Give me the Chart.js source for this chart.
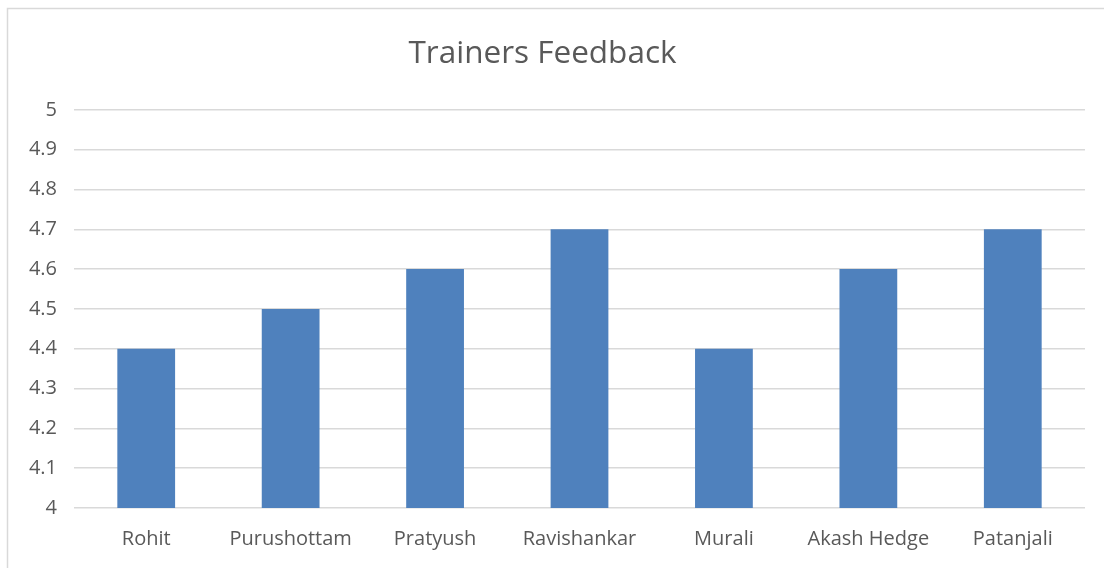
<!DOCTYPE html>
<html>
<head>
<meta charset="utf-8">
<script src="https://cdn.jsdelivr.net/npm/chart.js@4"></script>
<style>
  html, body { margin: 0; padding: 0; background: #fff; }
  #wrap { width: 1104px; height: 568px; }
</style>
</head>
<body>
<div id="wrap"><canvas id="chart" width="1104" height="568"></canvas></div>
<script>
// data
const trainers = ['Rohit', 'Purushottam', 'Pratyush', 'Ravishankar', 'Murali', 'Akash Hedge', 'Patanjali'];
const scores = [4.4, 4.5, 4.6, 4.7, 4.4, 4.6, 4.7];
const yTicks = [4, 4.1, 4.2, 4.3, 4.4, 4.5, 4.6, 4.7, 4.8, 4.9, 5];

const FONT = "'Open Sans', 'Liberation Sans', sans-serif";
const TEXT = '#595959';
const GRID = '#d9d9d9';

// white background + light frame like the office chart box
const frame = {
  id: 'frame',
  beforeDraw(chart) {
    const c = chart.ctx;
    c.save();
    c.fillStyle = '#fff';
    c.fillRect(0, 0, chart.width, chart.height);
    c.strokeStyle = GRID;
    c.lineWidth = 1.5;
    c.strokeRect(7.5, 8.5, chart.width + 20, chart.height + 20);
    c.restore();
  }
};

new Chart(document.getElementById('chart'), {
  type: 'bar',
  data: {
    labels: trainers,
    datasets: [{
      data: scores,
      backgroundColor: '#4f81bd',
      categoryPercentage: 1,
      barPercentage: 0.4
    }]
  },
  options: {
    responsive: false,
    animation: false,
    layout: { padding: { left: 0, right: 19, top: 0, bottom: 0 } },
    plugins: {
      legend: { display: false },
      tooltip: { enabled: false },
      title: {
        display: true,
        text: 'Trainers Feedback',
        color: TEXT,
        font: { family: FONT, size: 31.5, weight: 'normal', lineHeight: 1.2 },
        padding: { top: 35, bottom: 37 }
      }
    },
    scales: {
      x: {
        grid: { display: false },
        border: { display: false },
        ticks: { color: TEXT, font: { family: FONT, size: 20 }, padding: 11, maxRotation: 0 },
        afterFit(scale) { scale.height = 60; }
      },
      y: {
        min: 4,
        max: 5,
        grid: { color: GRID, lineWidth: 1.5, drawTicks: false },
        border: { display: false },
        afterBuildTicks(scale) { scale.ticks = yTicks.map(v => ({ value: v })); },
        ticks: {
          color: TEXT,
          font: { family: FONT, size: 20 },
          padding: 17,
          callback: v => String(parseFloat(v.toFixed(1)))
        },
        afterFit(scale) { scale.width = 74; }
      }
    }
  },
  plugins: [frame]
});
</script>
</body>
</html>
